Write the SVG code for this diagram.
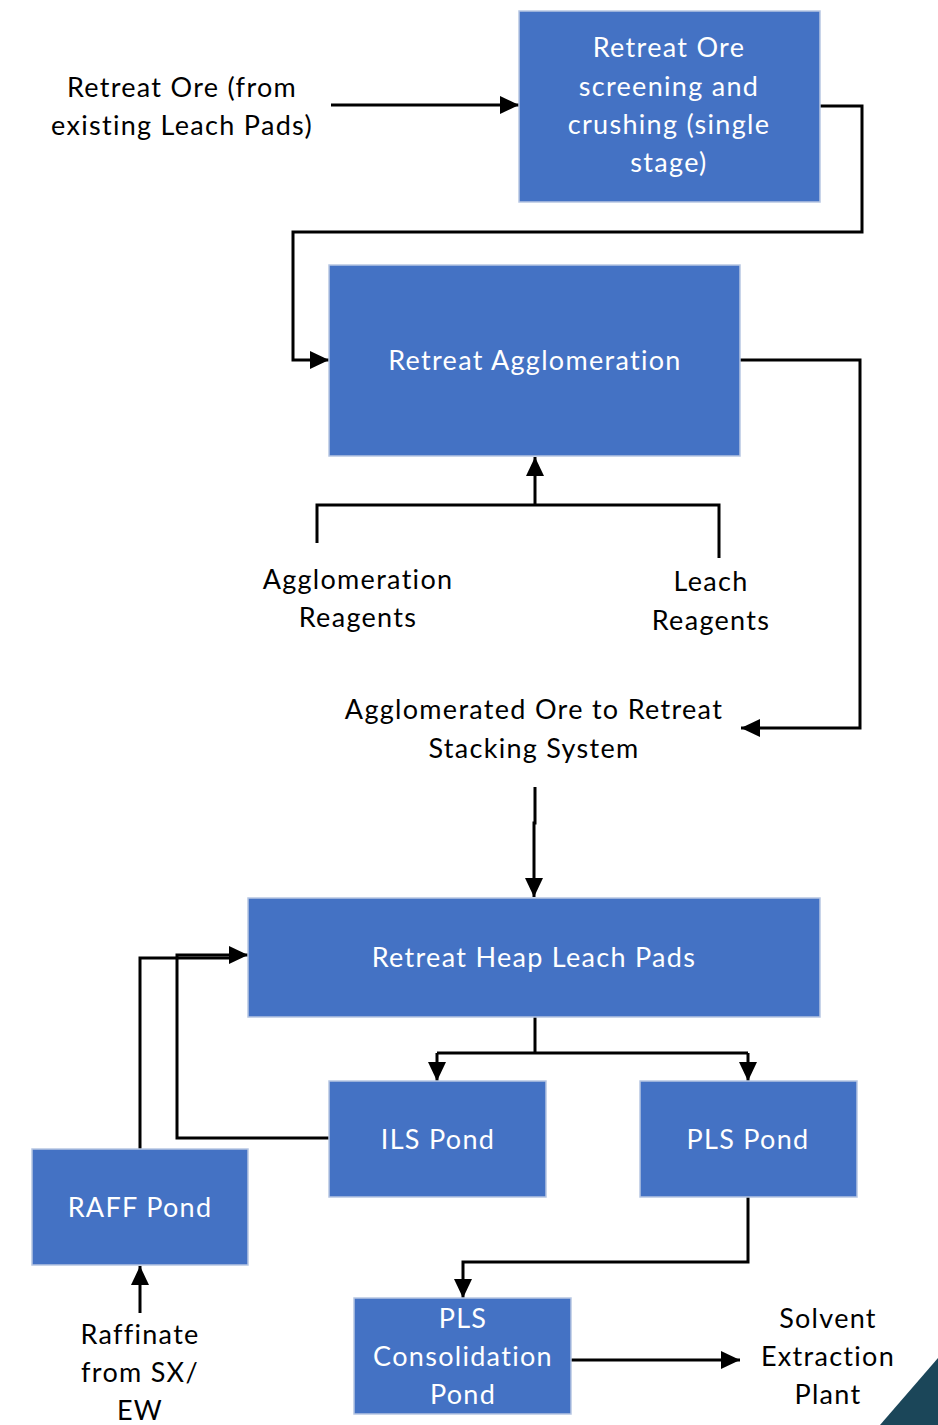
<svg xmlns="http://www.w3.org/2000/svg" width="938" height="1425" viewBox="0 0 938 1425">
  <style>
    .box { fill: #4472C4; stroke: #b7c6e2; stroke-width: 1.5; }
    .wt { font-family: Lato, "Open Sans", sans-serif; font-size: 27px; letter-spacing: 1.3px; fill: #ffffff; text-anchor: middle; }
    .bt { font-family: Lato, "Open Sans", sans-serif; font-size: 27px; letter-spacing: 1.3px; fill: #000000; text-anchor: middle; }
    .ln { fill: none; stroke: #000000; stroke-width: 3; stroke-linejoin: miter; }
  </style>
  <defs>
    <marker id="arr" markerUnits="userSpaceOnUse" markerWidth="20" markerHeight="20" viewBox="0 0 20 20" refX="19" refY="10" orient="auto">
      <path d="M0,1 L19,10 L0,19 Z" fill="#000000"/>
    </marker>
  </defs>
  <rect width="938" height="1425" fill="#ffffff"/>

  <!-- connectors -->
  <g id="connectors">
    <path class="ln" d="M331,105 H519" marker-end="url(#arr)"/>
    <path class="ln" d="M820,106 H862 V232 H293 V360 H329" marker-end="url(#arr)"/>
    <path class="ln" d="M740,360 H860 V728 H741" marker-end="url(#arr)"/>
    <path class="ln" d="M317,543 V505 H719 V558"/>
    <path class="ln" d="M535,505 V457" marker-end="url(#arr)"/>
    <path class="ln" d="M535,787 V823 H534 V897" marker-end="url(#arr)"/>
    <path class="ln" d="M535,1017 V1053"/>
    <path class="ln" d="M437,1053 H748"/>
    <path class="ln" d="M437,1053 V1081" marker-end="url(#arr)"/>
    <path class="ln" d="M748,1053 V1081" marker-end="url(#arr)"/>
    <path class="ln" d="M330,1138 H177 V955 H248" marker-end="url(#arr)"/>
    <path class="ln" d="M140,1149 V958 H235"/>
    <path class="ln" d="M748,1197 V1262 H463 V1298" marker-end="url(#arr)"/>
    <path class="ln" d="M571,1360 H740" marker-end="url(#arr)"/>
    <path class="ln" d="M140,1313 V1266" marker-end="url(#arr)"/>
  </g>

  <g id="crushing">
    <rect class="box" x="519" y="11" width="301" height="191"/>
    <text class="wt" x="669" y="57">Retreat Ore</text>
    <text class="wt" x="669" y="96">screening and</text>
    <text class="wt" x="669" y="134">crushing (single</text>
    <text class="wt" x="669" y="172">stage)</text>
  </g>

  <g id="agglomeration">
    <rect class="box" x="329" y="265" width="411" height="191"/>
    <text class="wt" x="535" y="370">Retreat Agglomeration</text>
  </g>

  <g id="heap-leach">
    <rect class="box" x="248" y="898" width="572" height="119"/>
    <text class="wt" x="534" y="967">Retreat Heap Leach Pads</text>
  </g>

  <g id="ils-pond">
    <rect class="box" x="329" y="1081" width="217" height="116"/>
    <text class="wt" x="438" y="1149">ILS Pond</text>
  </g>

  <g id="pls-pond">
    <rect class="box" x="640" y="1081" width="217" height="116"/>
    <text class="wt" x="748" y="1149">PLS Pond</text>
  </g>

  <g id="raff-pond">
    <rect class="box" x="32" y="1149" width="216" height="116"/>
    <text class="wt" x="140" y="1217">RAFF Pond</text>
  </g>

  <g id="pls-consolidation">
    <rect class="box" x="354" y="1298" width="217" height="116"/>
    <text class="wt" x="463" y="1328">PLS</text>
    <text class="wt" x="463" y="1366">Consolidation</text>
    <text class="wt" x="463" y="1404">Pond</text>
  </g>

  <g id="ore-source">
    <text class="bt" x="182" y="97">Retreat Ore (from</text>
    <text class="bt" x="182" y="135">existing Leach Pads)</text>
  </g>

  <g id="agglomeration-reagents">
    <text class="bt" x="358" y="589">Agglomeration</text>
    <text class="bt" x="358" y="627">Reagents</text>
  </g>

  <g id="leach-reagents">
    <text class="bt" x="711" y="591">Leach</text>
    <text class="bt" x="711" y="630">Reagents</text>
  </g>

  <g id="stacking">
    <text class="bt" x="534" y="719">Agglomerated Ore to Retreat</text>
    <text class="bt" x="534" y="758">Stacking System</text>
  </g>

  <g id="sx-plant">
    <text class="bt" x="828" y="1328">Solvent</text>
    <text class="bt" x="828" y="1366">Extraction</text>
    <text class="bt" x="828" y="1404">Plant</text>
  </g>

  <g id="raffinate">
    <text class="bt" x="140" y="1344">Raffinate</text>
    <text class="bt" x="140" y="1382">from SX/</text>
    <text class="bt" x="140" y="1420">EW</text>
  </g>

  <!-- corner accent -->
  <polygon points="938,1358 938,1425 880,1425" fill="#1b4659"/>
</svg>
